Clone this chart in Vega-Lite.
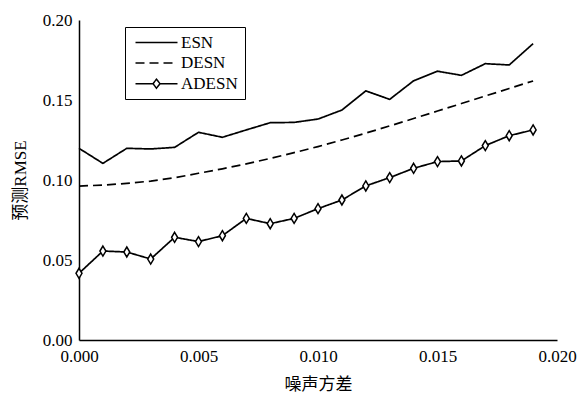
{
  "$schema": "https://vega.github.io/schema/vega-lite/v6.json",
  "width": 478,
  "height": 320,
  "autosize": "none",
  "padding": {"left": 79, "top": 20, "right": 22, "bottom": 55},
  "background": "white",
  "config": {
    "view": {"stroke": null},
    "axis": {
      "grid": false,
      "domainColor": "black",
      "domainWidth": 1.5,
      "labelFont": "Liberation Serif",
      "labelFontSize": 17,
      "labelColor": "black",
      "titleFont": "Liberation Serif, Noto Sans CJK SC",
      "titleFontSize": 17,
      "titleFontWeight": "normal",
      "titleColor": "black"
    }
  },
  "data": {
    "values": [
      {"x": 0.000, "y": 0.1198, "series": "ESN"},
      {"x": 0.001, "y": 0.1104, "series": "ESN"},
      {"x": 0.002, "y": 0.1198, "series": "ESN"},
      {"x": 0.003, "y": 0.1194, "series": "ESN"},
      {"x": 0.004, "y": 0.1204, "series": "ESN"},
      {"x": 0.005, "y": 0.1298, "series": "ESN"},
      {"x": 0.006, "y": 0.1267, "series": "ESN"},
      {"x": 0.007, "y": 0.1313, "series": "ESN"},
      {"x": 0.008, "y": 0.1358, "series": "ESN"},
      {"x": 0.009, "y": 0.1360, "series": "ESN"},
      {"x": 0.010, "y": 0.1381, "series": "ESN"},
      {"x": 0.011, "y": 0.1437, "series": "ESN"},
      {"x": 0.012, "y": 0.1557, "series": "ESN"},
      {"x": 0.013, "y": 0.1504, "series": "ESN"},
      {"x": 0.014, "y": 0.1620, "series": "ESN"},
      {"x": 0.015, "y": 0.1680, "series": "ESN"},
      {"x": 0.016, "y": 0.1654, "series": "ESN"},
      {"x": 0.017, "y": 0.1727, "series": "ESN"},
      {"x": 0.018, "y": 0.1719, "series": "ESN"},
      {"x": 0.019, "y": 0.1852, "series": "ESN"},
      {"x": 0.000, "y": 0.0962, "series": "DESN"},
      {"x": 0.001, "y": 0.0968, "series": "DESN"},
      {"x": 0.002, "y": 0.0979, "series": "DESN"},
      {"x": 0.003, "y": 0.0993, "series": "DESN"},
      {"x": 0.004, "y": 0.1014, "series": "DESN"},
      {"x": 0.005, "y": 0.1042, "series": "DESN"},
      {"x": 0.006, "y": 0.1070, "series": "DESN"},
      {"x": 0.007, "y": 0.1101, "series": "DESN"},
      {"x": 0.008, "y": 0.1135, "series": "DESN"},
      {"x": 0.009, "y": 0.1171, "series": "DESN"},
      {"x": 0.010, "y": 0.1209, "series": "DESN"},
      {"x": 0.011, "y": 0.1250, "series": "DESN"},
      {"x": 0.012, "y": 0.1293, "series": "DESN"},
      {"x": 0.013, "y": 0.1338, "series": "DESN"},
      {"x": 0.014, "y": 0.1384, "series": "DESN"},
      {"x": 0.015, "y": 0.1431, "series": "DESN"},
      {"x": 0.016, "y": 0.1478, "series": "DESN"},
      {"x": 0.017, "y": 0.1525, "series": "DESN"},
      {"x": 0.018, "y": 0.1572, "series": "DESN"},
      {"x": 0.019, "y": 0.1619, "series": "DESN"},
      {"x": 0.000, "y": 0.0417, "series": "ADESN"},
      {"x": 0.001, "y": 0.0556, "series": "ADESN"},
      {"x": 0.002, "y": 0.0550, "series": "ADESN"},
      {"x": 0.003, "y": 0.0506, "series": "ADESN"},
      {"x": 0.004, "y": 0.0642, "series": "ADESN"},
      {"x": 0.005, "y": 0.0615, "series": "ADESN"},
      {"x": 0.006, "y": 0.0652, "series": "ADESN"},
      {"x": 0.007, "y": 0.0760, "series": "ADESN"},
      {"x": 0.008, "y": 0.0727, "series": "ADESN"},
      {"x": 0.009, "y": 0.0760, "series": "ADESN"},
      {"x": 0.010, "y": 0.0821, "series": "ADESN"},
      {"x": 0.011, "y": 0.0875, "series": "ADESN"},
      {"x": 0.012, "y": 0.0963, "series": "ADESN"},
      {"x": 0.013, "y": 0.1015, "series": "ADESN"},
      {"x": 0.014, "y": 0.1073, "series": "ADESN"},
      {"x": 0.015, "y": 0.1115, "series": "ADESN"},
      {"x": 0.016, "y": 0.1119, "series": "ADESN"},
      {"x": 0.017, "y": 0.1215, "series": "ADESN"},
      {"x": 0.018, "y": 0.1277, "series": "ADESN"},
      {"x": 0.019, "y": 0.1313, "series": "ADESN"}
    ]
  },
  "encoding": {
    "x": {
      "field": "x", "type": "quantitative", "title": "噪声方差",
      "scale": {"domain": [0, 0.02], "nice": false, "zero": false},
      "axis": {"values": [0, 0.005, 0.01, 0.015, 0.02], "format": ".3f", "labelFlush": false, "labelPadding": 8, "titlePadding": 12, "ticks": false}
    },
    "y": {
      "field": "y", "type": "quantitative", "title": "预测RMSE",
      "scale": {"domain": [0, 0.2], "nice": false},
      "axis": {"values": [0, 0.05, 0.1, 0.15, 0.2], "format": ".2f", "labelPadding": 7, "titlePadding": 13, "ticks": false}
    }
  },
  "layer": [
    {
      "data": {"values": [{"x": 0.005}, {"x": 0.01}, {"x": 0.015}, {"x": 0.02}]},
      "mark": {"type": "rule", "color": "black", "strokeWidth": 1.5},
      "encoding": {
        "y": {"datum": 0, "type": "quantitative", "title": "预测RMSE"},
        "y2": {"datum": 0.005}
      }
    },
    {
      "data": {"values": [{"y": 0.05}, {"y": 0.1}, {"y": 0.15}, {"y": 0.2}]},
      "mark": {"type": "rule", "color": "black", "strokeWidth": 1.5},
      "encoding": {
        "x": {"datum": 0, "type": "quantitative", "title": "噪声方差"},
        "x2": {"datum": 0.00034}
      }
    },
    {
      "mark": {"type": "line", "color": "black", "strokeWidth": 1.7},
      "encoding": {
        "detail": {"field": "series"},
        "strokeDash": {
          "field": "series", "type": "nominal",
          "scale": {"domain": ["ESN", "DESN", "ADESN"], "range": [[1, 0], [9, 5], [1, 0]]},
          "legend": {
            "title": null,
            "orient": "none",
            "legendX": 46,
            "legendY": 7,
            "strokeColor": "black",
            "fillColor": "white",
            "padding": 7,
            "rowPadding": 2.6,
            "symbolSize": 100,
            "symbolStrokeColor": "black",
            "symbolStrokeWidth": 1.5,
            "symbolOffset": 16,
            "labelOffset": 16,
            "labelFont": "Liberation Serif",
            "labelFontSize": 17,
            "labelColor": "black",
            "encode": {
              "symbols": {
                "update": {
                  "shape": {"signal": "datum.value === 'ADESN' ? 'M-4.2,0H-0.7M0.7,0H4.2M0,-0.9L0.7,0L0,0.9L-0.7,0Z' : 'M-4.2,0H4.2'"},
                  "fill": {"value": "white"},
                  "stroke": {"value": "black"},
                  "strokeWidth": {"value": 1.5},
                  "opacity": {"value": 1},
                  "size": {"value": 100}
                }
              }
            }
          }
        }
      }
    },
    {
      "transform": [{"filter": "datum.series === 'ADESN'"}],
      "mark": {
        "type": "point",
        "shape": "M0,-1L0.6,0L0,1L-0.6,0Z",
        "size": 100,
        "filled": true,
        "fill": "white",
        "stroke": "black",
        "strokeWidth": 1.5,
        "opacity": 1
      }
    }
  ]
}
